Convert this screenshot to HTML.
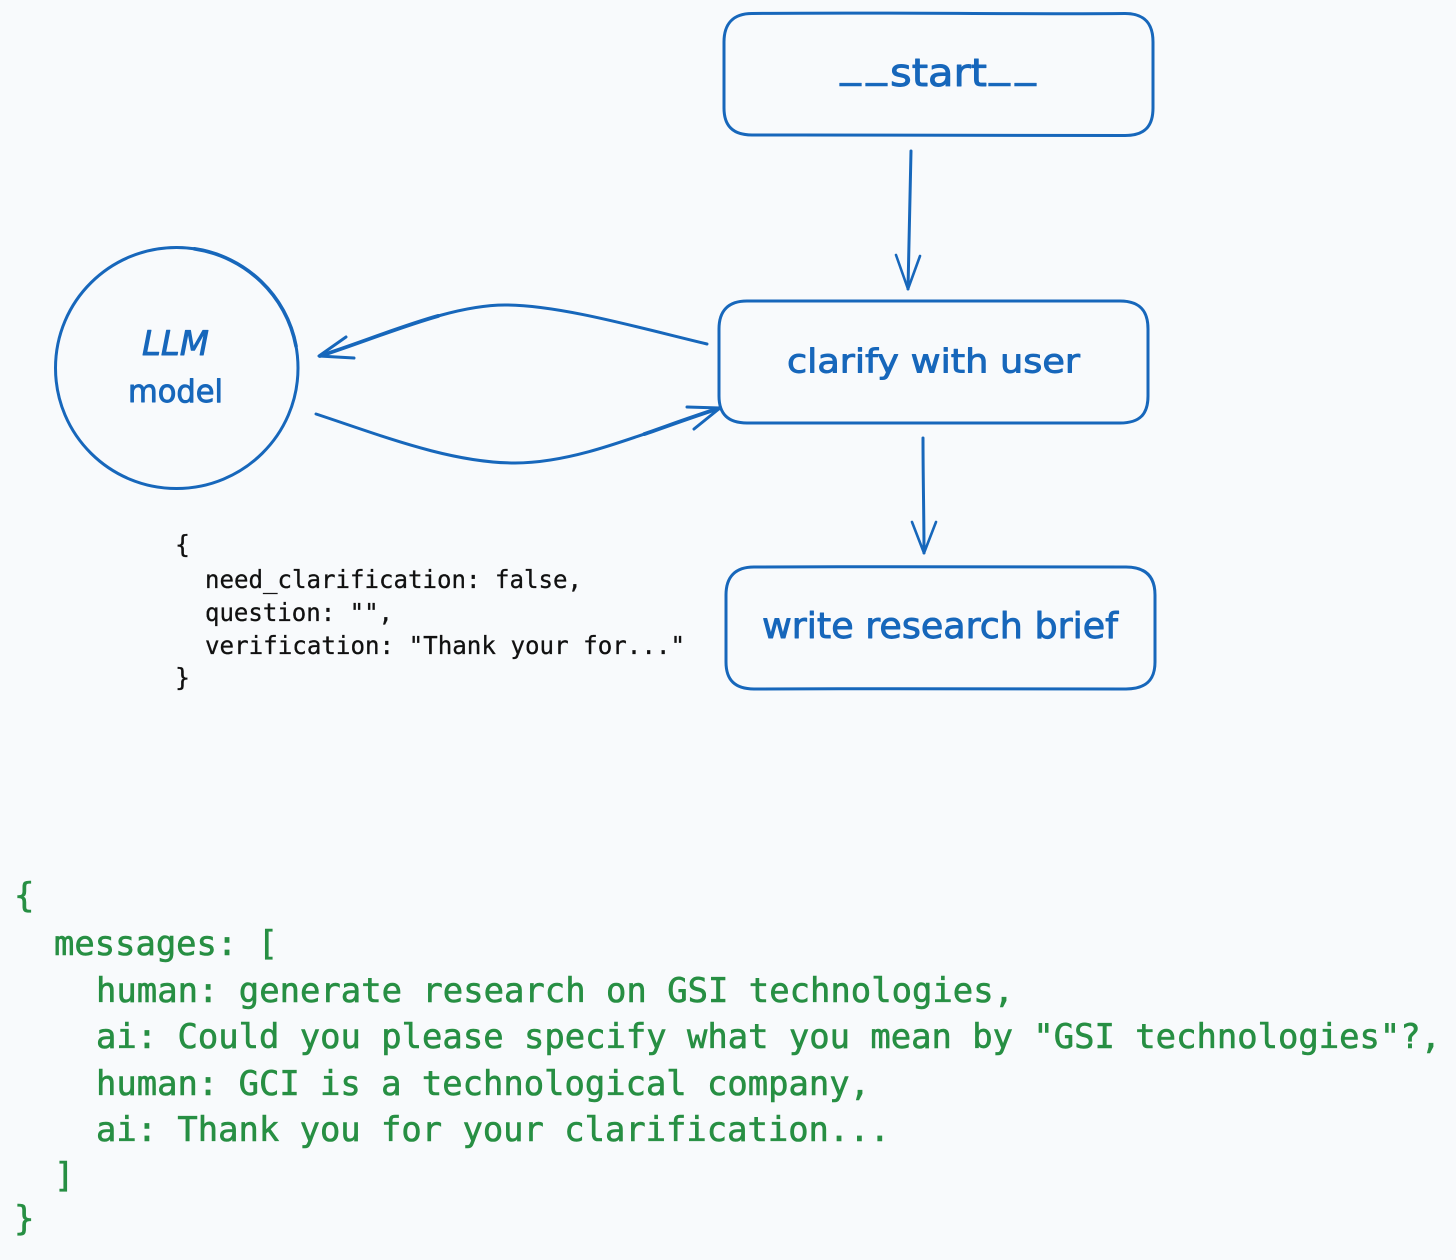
<!DOCTYPE html>
<html><head><meta charset="utf-8">
<style>
html,body{margin:0;padding:0;background:#f8fafc;}
svg{display:block}
</style></head>
<body>
<svg width="1456" height="1260" viewBox="0 0 1456 1260" xmlns="http://www.w3.org/2000/svg">
<rect width="1456" height="1260" fill="#f8fafc"/>
<g fill="none" stroke="#1767bb" stroke-width="3" stroke-linecap="round" stroke-linejoin="round">
<path d="M752 13.5 C880 12 1010 14.5 1125 13.5 C1145 13.5 1153 24 1153 42 L1153 108 C1153 126 1145 135.5 1125 135.5 C1010 135 880 135 752 135 C733 135 724 126 724 108 L724 42 C724 24 733 13.5 752 13.5Z"/>
<path d="M747 301 C880 300 1010 302 1120 301 C1140 301 1148 311 1148 329 L1148 396 C1148 414 1140 423 1120 423 C1010 424 880 422 747 423 C728 423 719 414 719 396 L719 329 C719 311 728 301 747 301Z"/>
<path d="M754 567 C880 566 1010 568 1126 567 C1146 567 1155 577 1155 595 L1155 662 C1155 680 1146 689 1126 689 C1010 690 880 688 754 689 C735 689 726 680 726 662 L726 595 C726 577 735 567 754 567Z"/>
<path d="M176.5 247.5 C243 247.5 298 301 298 368 C298 435 243 488.5 176.5 488.5 C110 488.5 55.5 435 55.5 368 C55.5 301 110 247.5 176.5 247.5Z"/>
<path d="M176.5 247.5 C243 247.5 298 301 298 368" stroke-width="3.6" stroke-dasharray="150 999" stroke-dashoffset="-18"/>
<path d="M911 151 C910 200 909 245 908 289"/>
<path d="M896 255 L908 289 L920 256" stroke-width="2.6"/>
<path d="M923 438 C923 480 924 515 924 553"/>
<path d="M912 522 L924 553 L936 522" stroke-width="2.6"/>
<path d="M707 344 C640 328 560 305 505 305 C450 305 385 335 320 356"/>
<path d="M320 356 C385 335 450 305 505 305" stroke-width="3.8" stroke-dasharray="125 999"/>
<path d="M346 337 L319 356 L354 358"/>
<path d="M316 414 C380 435 450 463 515 463 C580 463 650 430 720 408"/>
<path d="M720 408 C650 430 580 463 515 463" stroke-width="3.8" stroke-dasharray="80 999"/>
<path d="M687 407 L720 408 L694 429"/>
</g>
<g font-family="'DejaVu Sans','Liberation Sans',sans-serif" fill="#1767bb" stroke="#1767bb" stroke-width="0.9" stroke-linejoin="round" text-anchor="start">
<text x="840" y="76" font-size="42" stroke-width="0.5" letter-spacing="5">__</text>
<text x="890" y="86" font-size="38" textLength="97" lengthAdjust="spacingAndGlyphs">start</text>
<text x="989" y="76" font-size="42" stroke-width="0.5" letter-spacing="5">__</text>
<text x="787" y="372.5" font-size="33" textLength="293" lengthAdjust="spacingAndGlyphs">clarify with user</text>
<text x="762" y="638" font-size="36" textLength="356" lengthAdjust="spacingAndGlyphs">write research brief</text>
<text x="142" y="355" font-size="34" font-style="italic" textLength="67" lengthAdjust="spacingAndGlyphs">LLM</text>
<text x="128" y="402" font-size="31" textLength="95" lengthAdjust="spacingAndGlyphs">model</text>
</g>
<g font-family="'DejaVu Sans Mono','Liberation Mono',monospace" font-size="25" fill="#111111" stroke="#111111" stroke-width="0.3">
<text x="175" y="553">{</text>
<text x="205" y="588" textLength="377" lengthAdjust="spacingAndGlyphs">need_clarification: false,</text>
<text x="205" y="621" textLength="188" lengthAdjust="spacingAndGlyphs">question: "",</text>
<text x="205" y="654" textLength="480" lengthAdjust="spacingAndGlyphs">verification: "Thank your for..."</text>
<text x="175" y="686">}</text>
</g>
<g font-family="'DejaVu Sans Mono','Liberation Mono',monospace" font-size="34" fill="#278f43" stroke="#278f43" stroke-width="0.6">
<text x="14" y="907">{</text>
<text x="54" y="955" textLength="224" lengthAdjust="spacingAndGlyphs">messages: [</text>
<text x="96" y="1002" textLength="918" lengthAdjust="spacingAndGlyphs">human: generate research on GSI technologies,</text>
<text x="96" y="1048" textLength="1345" lengthAdjust="spacingAndGlyphs">ai: Could you please specify what you mean by "GSI technologies"?,</text>
<text x="96" y="1095" textLength="774" lengthAdjust="spacingAndGlyphs">human: GCI is a technological company,</text>
<text x="96" y="1141" textLength="794" lengthAdjust="spacingAndGlyphs">ai: Thank you for your clarification...</text>
<text x="54" y="1187">]</text>
<text x="14" y="1230">}</text>
</g>
</svg>
</body></html>
